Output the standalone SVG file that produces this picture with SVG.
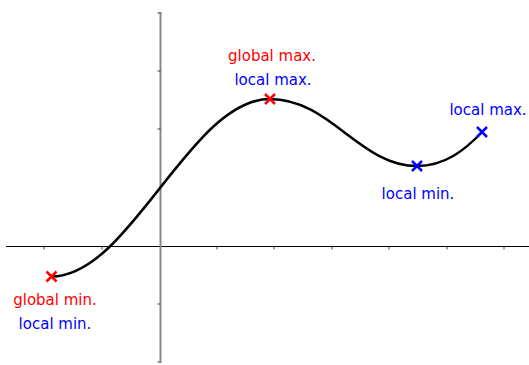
<svg xmlns="http://www.w3.org/2000/svg" width="529" height="365" viewBox="0 0 529 365">
<style>
.ax{stroke:#000;stroke-width:1.2;fill:none}
.yax{stroke:#888;stroke-width:2;fill:none}
.tk{stroke:#444;stroke-width:1;fill:none}
.curve{stroke:#000;stroke-width:2.5;fill:none}
.xr{stroke:#ff0000;stroke-width:2.5;fill:none}
.xb{stroke:#0000ff;stroke-width:2.5;fill:none}
text{font-family:"DejaVu Sans","Liberation Sans",sans-serif;font-size:15px;text-anchor:middle}
.r{fill:#ff0000}
.b{fill:#0000ff}
</style>
<g id="axes">
<line class="ax" x1="6" y1="246.5" x2="529" y2="246.5"/>
<path class="tk" d="M44,246.5v3M102,246.5v3M217,246.5v3M274,246.5v3M332,246.5v3M389,246.5v3M447,246.5v3M504,246.5v3"/>
<line class="yax" x1="160.5" y1="12" x2="160.5" y2="363"/>
<path class="tk" d="M157.5,13h3M157.5,71h3M157.5,129h3M157.5,304h3M157.5,362h3"/>
</g>
<g id="connectors">
<path class="curve" d="M51.5,276.5 C130,276.5 190,99 270,99 C330,99 360,166 417,166 C445,166 465,150 482,132"/>
</g>
<g id="globalmin">
<path class="xr" d="M46.5,271.5l10,10M56.5,271.5l-10,10"/>
<text class="r" x="55" y="305">global min.</text>
<text class="b" x="55" y="329">local min.</text>
</g>
<g id="globalmax">
<path class="xr" d="M265,94l10,10M275,94l-10,10"/>
<text class="r" x="272" y="61">global max.</text>
<text class="b" x="273" y="85">local max.</text>
</g>
<g id="localmin">
<path class="xb" d="M412,161l10,10M422,161l-10,10"/>
<text class="b" x="418" y="199">local min.</text>
</g>
<g id="localmax">
<path class="xb" d="M477,127l10,10M487,127l-10,10"/>
<text class="b" x="488" y="115">local max.</text>
</g>
</svg>
